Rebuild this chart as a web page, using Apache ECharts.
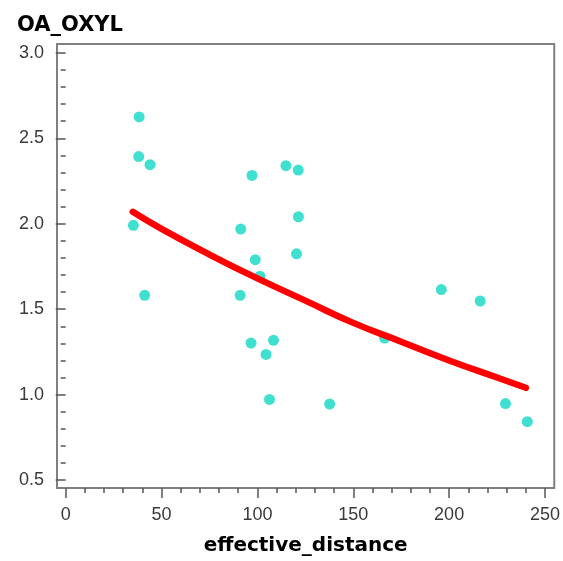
<!DOCTYPE html>
<html>
<head>
<meta charset="utf-8">
<script src="https://cdn.jsdelivr.net/npm/echarts@6/dist/echarts.min.js"></script>
<style>html,body{margin:0;padding:0;background:#fff;}#chart{width:563px;height:561px;}</style>
</head>
<body>
<div id="chart"></div>
<script>
// Scatter data: effective_distance (x) vs OA_OXYL (y)
const pointX = [38.3, 38.1, 44.0, 97.2, 114.9, 121.3, 121.4, 35.3, 91.3, 120.4, 98.9, 101.3, 41.2, 91.0, 96.7, 108.4, 104.5, 106.3, 137.7, 195.9, 216.2, 166.3, 229.4, 240.8];
const pointY = [2.625, 2.393, 2.346, 2.283, 2.340, 2.314, 2.041, 1.991, 1.969, 1.824, 1.790, 1.693, 1.581, 1.581, 1.302, 1.318, 1.235, 0.972, 0.945, 1.615, 1.548, 1.331, 0.948, 0.842];
// Fitted curve
const curveX = [35, 50, 75, 100, 125, 150, 175, 200, 225, 240];
const curveY = [2.07, 1.97, 1.82, 1.68, 1.55, 1.42, 1.31, 1.20, 1.10, 1.04];
// Tick labels
const xMajor = [0, 50, 100, 150, 200, 250];
const xMinor = [10, 20, 30, 40, 60, 70, 80, 90, 110, 120, 130, 140, 160, 170, 180, 190, 210, 220, 230, 240];
const yMajor = [0.5, 1.0, 1.5, 2.0, 2.5, 3.0];
const yMinor = [0.6, 0.7, 0.8, 0.9, 1.1, 1.2, 1.3, 1.4, 1.6, 1.7, 1.8, 1.9, 2.1, 2.2, 2.3, 2.4, 2.6, 2.7, 2.8, 2.9];

const chart = echarts.init(document.getElementById('chart'), null, {renderer: 'canvas'});
const tickColor = '#555';
const labelStyle = {fontFamily: 'Liberation Sans', fontSize: 18, color: '#3a3a3a'};
const X_MIN = -4.52, X_MAX = 254.83, Y_MIN = 0.4536, Y_MAX = 3.052;

chart.setOption({
  backgroundColor: '#fff',
  animation: false,
  title: {
    text: 'OA_OXYL', left: 12, top: 10,
    textStyle: {fontFamily: 'DejaVu Sans', fontWeight: 'bold', fontSize: 21, color: '#000'}
  },
  grid: {
    left: 57, right: 7, top: 44, bottom: 69,
    show: true, borderColor: '#808080', borderWidth: 2, backgroundColor: '#fff'
  },
  xAxis: [
    {
      type: 'value', position: 'bottom', min: X_MIN, max: X_MAX,
      axisLine: {show: false},
      axisTick: {show: true, length: 10, customValues: xMajor, lineStyle: {color: tickColor, width: 1.5}},
      axisLabel: Object.assign({customValues: xMajor, margin: 18, formatter: v => String(Math.round(v))}, labelStyle),
      splitLine: {show: false},
      name: 'effective_distance', nameLocation: 'middle', nameGap: 48,
      nameTextStyle: {fontFamily: 'DejaVu Sans', fontWeight: 'bold', fontSize: 20, color: '#000'}
    },
    {
      type: 'value', position: 'bottom', min: X_MIN, max: X_MAX,
      axisLine: {show: false},
      axisTick: {show: true, length: 5, customValues: xMinor, lineStyle: {color: tickColor, width: 1.5}},
      axisLabel: {show: false},
      splitLine: {show: false}
    }
  ],
  yAxis: [
    {
      type: 'value', position: 'left', min: Y_MIN, max: Y_MAX,
      axisLine: {show: false},
      axisTick: {show: true, length: 10, customValues: yMajor, lineStyle: {color: tickColor, width: 1.5}},
      axisLabel: Object.assign({customValues: yMajor, margin: 13, formatter: v => v.toFixed(1)}, labelStyle),
      splitLine: {show: false}
    },
    {
      type: 'value', position: 'left', min: Y_MIN, max: Y_MAX,
      axisLine: {show: false},
      axisTick: {show: true, length: 5, customValues: yMinor, lineStyle: {color: tickColor, width: 1.5}},
      axisLabel: {show: false},
      splitLine: {show: false}
    }
  ],
  series: [
    {
      type: 'scatter', xAxisIndex: 0, yAxisIndex: 0, z: 2,
      symbol: 'circle', symbolSize: 11,
      itemStyle: {color: '#40E0D0', opacity: 1},
      data: pointX.map((x, i) => [x, pointY[i]])
    },
    {
      type: 'line', xAxisIndex: 0, yAxisIndex: 0, z: 3,
      smooth: true, showSymbol: false, symbol: 'none',
      lineStyle: {color: '#ff0000', width: 6.5, cap: 'round', join: 'round'},
      data: curveX.map((x, i) => [x, curveY[i]])
    }
  ]
});
</script>
</body>
</html>
